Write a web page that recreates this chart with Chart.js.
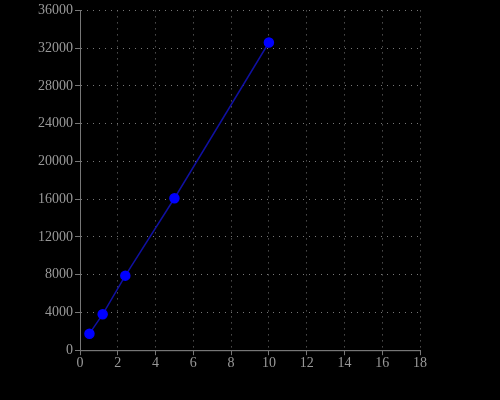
<!DOCTYPE html>
<html>
<head>
<script src="https://cdn.jsdelivr.net/npm/chart.js@4"></script>
<style>
  html, body { margin: 0; background: #000; overflow: hidden; }
  #wrap { width: 500px; height: 400px; }
</style>
</head>
<body>
<div id="wrap"><canvas id="c"></canvas></div>
<script>
// data
const xValues = [0.5, 1.2, 2.4, 5, 10];
const yValues = [1750, 3800, 7900, 16100, 32600];

const gridColor = '#777';
const textColor = '#999';

new Chart(document.getElementById('c'), {
    type: 'scatter',
    data: {
        datasets: [{
            data: xValues.map((x, i) => ({ x: x, y: yValues[i] })),
            showLine: true,
            borderColor: '#1010a0',
            borderWidth: 1.5,
            backgroundColor: '#0000ff',
            pointBackgroundColor: '#0000ff',
            pointBorderColor: '#0000ff',
            pointRadius: 4.5
        }]
    },
    options: {
        responsive: true,
        maintainAspectRatio: false,
        animation: false,
        layout: { padding: { top: -9, right: 80, bottom: 28, left: 0 } },
        plugins: { legend: { display: false }, tooltip: { enabled: false } },
        scales: {
            x: {
                type: 'linear', min: 0, max: 18,
                ticks: { stepSize: 2, color: textColor, padding: 0,
                         font: { family: "'Liberation Serif', serif", size: 14 } },
                grid: { color: gridColor, tickColor: gridColor, tickLength: 5 },
                border: { color: gridColor, dash: [1, 5] }
            },
            y: {
                min: 0, max: 36000, afterFit: s => { s.width = 80; },
                ticks: { stepSize: 4000, color: textColor, padding: 2,
                         callback: v => String(v),
                         font: { family: "'Liberation Serif', serif", size: 14 } },
                grid: { color: gridColor, tickColor: gridColor, tickLength: 5 },
                border: { color: gridColor, dash: [1, 5] }
            }
        }
    },
    plugins: [{
        id: 'solidAxes',
        afterDraw(chart) {
            const { ctx, chartArea: a } = chart;
            ctx.save();
            ctx.strokeStyle = gridColor;
            ctx.lineWidth = 1;
            ctx.beginPath();
            ctx.moveTo(a.left + 0.5, a.top);
            ctx.lineTo(a.left + 0.5, a.bottom + 0.5);
            ctx.lineTo(a.right, a.bottom + 0.5);
            ctx.stroke();
            ctx.restore();
        }
    }]
});
</script>
</body>
</html>
